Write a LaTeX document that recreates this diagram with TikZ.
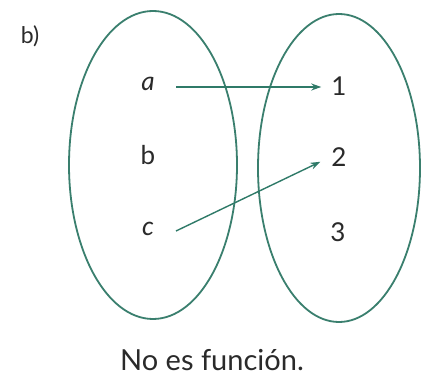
\documentclass[tikz,border=0pt]{standalone}
\usepackage{fontspec}
\setmainfont{Lato}
\usetikzlibrary{arrows.meta}
\definecolor{setgreen}{HTML}{3A7F6E}
\definecolor{arrgreen}{HTML}{2F7A68}
\definecolor{txt}{HTML}{2A2A2A}
\begin{document}
\begin{tikzpicture}[x=1pt,y=-1pt,
  setline/.style={draw=setgreen,line width=1.8pt},
  maparrow/.style={draw=arrgreen,line width=1.4pt,-{Stealth[length=10pt,width=7pt]}},
  elem/.style={text=txt,font=\fontsize{26}{30}\selectfont,inner sep=1pt},
  lbl/.style={text=txt,font=\fontsize{23}{27}\selectfont}]
\useasboundingbox (0,0) rectangle (426,379);
\fill[white] (0,0) rectangle (426,379);
\draw[setline] (153,165) ellipse [x radius=84, y radius=154];
\draw[setline] (339,168) ellipse [x radius=81, y radius=154];
\node[lbl] (lab) at (30,36) {b)};
\node[elem] (a) at (148,84) {\itshape a};
\node[elem] (b) at (148,155) {b};
\node[elem] (c) at (148,229) {\itshape c};
\node[elem] (one) at (339,86) {1};
\node[elem] (two) at (339,157) {2};
\node[elem] (three) at (338,232) {3};
\node[text=txt,font=\fontsize{29}{33}\selectfont] (cap) at (212,360) {No es función.};
\coordinate (aend) at (176,87);
\coordinate (cend) at (176,231);
\draw[maparrow,shorten >=9pt] (aend) -- (aend -| one.west);
\draw[maparrow,shorten >=11pt] (cend) -- (two.west);
\end{tikzpicture}
\end{document}
